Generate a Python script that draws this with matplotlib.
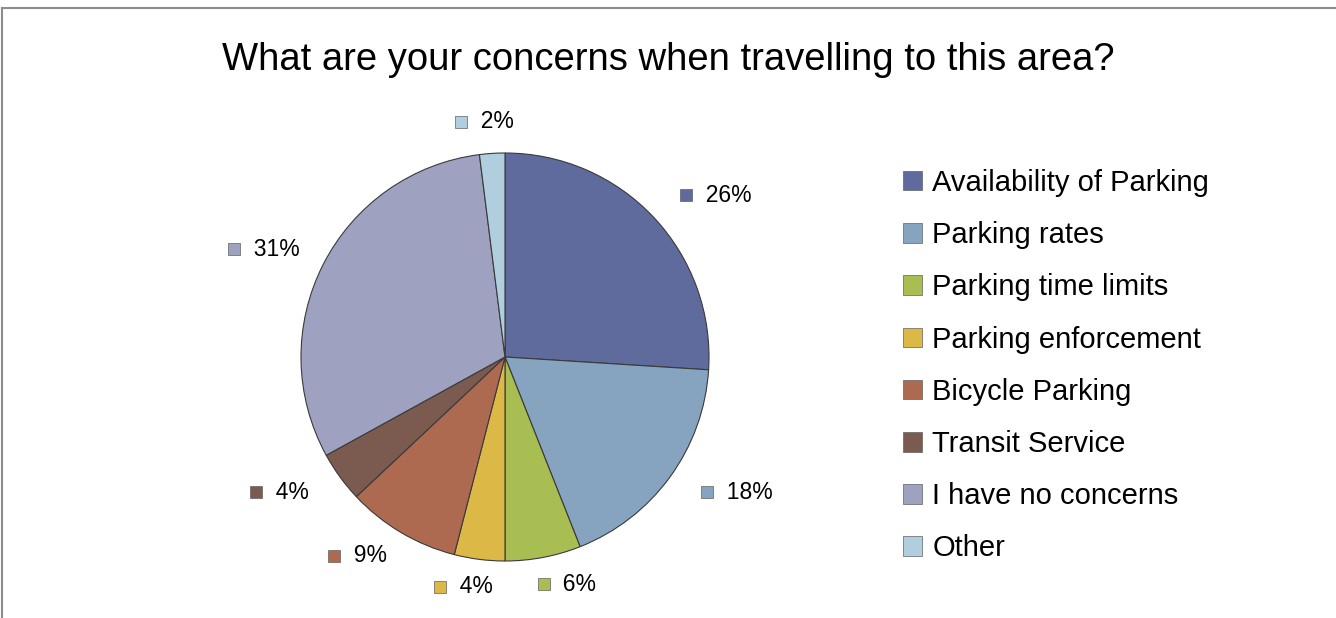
import numpy as np
import matplotlib
matplotlib.use("Agg")
import matplotlib.pyplot as plt
from matplotlib.lines import Line2D
from matplotlib.patches import Rectangle
from matplotlib.transforms import offset_copy

# data
categories = ["Availability of Parking", "Parking rates", "Parking time limits",
              "Parking enforcement", "Bicycle Parking", "Transit Service",
              "I have no concerns", "Other"]
shares = [26, 18, 6, 4, 9, 4, 31, 2]
colors = ["#5f6b9c", "#86a3c0", "#a9be52", "#dcb846",
          "#ad6a50", "#7b5a50", "#9ea2c0", "#b0cede"]
title = "What are your concerns when travelling to this area?"

plt.rcParams['font.family'] = ['Liberation Sans', 'DejaVu Sans']

W, H = 1336, 618
fig = plt.figure(figsize=(W / 100, H / 100), dpi=100)
fig.patch.set_facecolor("white")

# chart frame (top and left edges visible)
fig.add_artist(Line2D([2 / W, 1], [1 - 8 / H, 1 - 8 / H], color="#8c8c8c", lw=1.5))
fig.add_artist(Line2D([2 / W, 2 / W], [0, 1 - 8 / H], color="#8c8c8c", lw=1.5))

fig.text(0.5, 1 - 60 / H, title, ha="center", va="center", fontsize=27.5)

cx, cy, r = 505, 357, 204
ax = fig.add_axes([(cx - r) / W, (H - cy - r) / H, 2 * r / W, 2 * r / H])

wedges, _ = ax.pie(shares, colors=colors, startangle=90, counterclock=False,
                   radius=1.0, wedgeprops=dict(edgecolor="#3a3a3a", linewidth=0.8))
ax.set_xlim(-1, 1)
ax.set_ylim(-1, 1)
ax.axis("off")

# data labels: marker square + percentage outside each slice
px = 0.72  # points per pixel
for w, v in zip(wedges, shares):
    th = np.deg2rad((w.theta1 + w.theta2) / 2)
    c, s = np.cos(th), np.sin(th)
    x, y = 1.12 * c, 1.12 * s
    dx = 33 * c + 14 * np.clip(c * 5, -1, 1)
    dy = 5 * s + 2
    tr = offset_copy(ax.transData, fig=fig, x=dx * px, y=dy * px, units="points")
    ax.text(x, y, "  %d%%" % v, transform=offset_copy(tr, fig=fig, x=-12, y=0, units="points"),
            ha="left", va="center", fontsize=16.5, clip_on=False)
    ax.plot([x], [y], marker="s", markersize=9, color=w.get_facecolor(),
            markeredgecolor="#606060", markeredgewidth=0.5,
            transform=offset_copy(tr, fig=fig, x=-17, y=0, units="points"), clip_on=False)

handles = [Rectangle((0, 0), 1, 1, facecolor=c, edgecolor="#606060", linewidth=0.5) for c in colors]
leg = fig.legend(handles, categories, loc="upper left", bbox_to_anchor=(903 / W, 1 - 169 / H),
                 frameon=False, fontsize=21, handlelength=0.65, handleheight=0.65,
                 handletextpad=0.35, labelspacing=0.83, borderaxespad=0, borderpad=0)

fig.savefig("out.png", dpi=100)
